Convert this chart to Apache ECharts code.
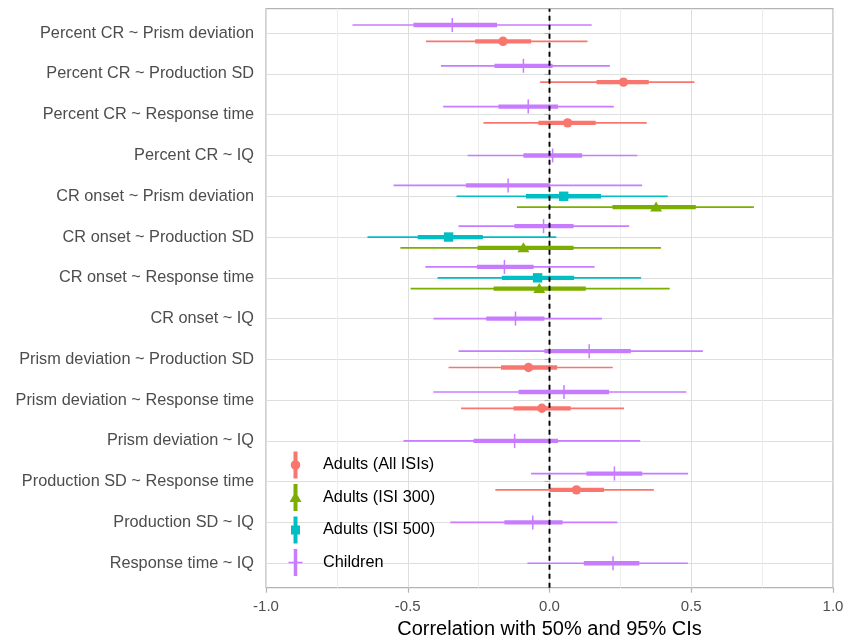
<!DOCTYPE html>
<html>
<head>
<meta charset="utf-8">
<title>Correlation with 50% and 95% CIs</title>
<script src="https://cdn.jsdelivr.net/npm/echarts@6/dist/echarts.min.js"></script>
<style>
	html,body{margin:0;padding:0;background:#fff;}
	#chart{width:845px;height:638px;}
</style>
</head>
<body>
<div id="chart"></div>
<script>
// 行标签 (从上到下)
const categories = [
	"Percent CR ~ Prism deviation",
	"Percent CR ~ Production SD",
	"Percent CR ~ Response time",
	"Percent CR ~ IQ",
	"CR onset ~ Prism deviation",
	"CR onset ~ Production SD",
	"CR onset ~ Response time",
	"CR onset ~ IQ",
	"Prism deviation ~ Production SD",
	"Prism deviation ~ Response time",
	"Prism deviation ~ IQ",
	"Production SD ~ Response time",
	"Production SD ~ IQ",
	"Response time ~ IQ"
];
const xTicks = [-1.0, -0.5, 0.0, 0.5, 1.0];

// Adults (All ISIs)
const allRows = [0, 1, 2, 8, 9, 11];
const allEst  = [-0.164, 0.261, 0.064, -0.074, -0.027, 0.095];
const allLo95 = [-0.436, -0.033, -0.233, -0.356, -0.312, -0.191];
const allHi95 = [0.134, 0.511, 0.343, 0.223, 0.263, 0.368];
const allLo50 = [-0.262, 0.166, -0.039, -0.171, -0.127, 0.000];
const allHi50 = [-0.065, 0.350, 0.163, 0.027, 0.075, 0.192];

// Adults (ISI 300)
const isi300Rows = [4, 5, 6];
const isi300Est  = [0.376, -0.092, -0.036];
const isi300Lo95 = [-0.115, -0.526, -0.490];
const isi300Hi95 = [0.721, 0.393, 0.424];
const isi300Lo50 = [0.222, -0.254, -0.197];
const isi300Hi50 = [0.516, 0.085, 0.128];

// Adults (ISI 500)
const isi500Rows = [4, 5, 6];
const isi500Est  = [0.050, -0.356, -0.042];
const isi500Lo95 = [-0.328, -0.642, -0.395];
const isi500Hi95 = [0.417, 0.024, 0.323];
const isi500Lo50 = [-0.083, -0.465, -0.168];
const isi500Hi50 = [0.182, -0.235, 0.087];

// Children
const kidRows = [0, 1, 2, 3, 4, 5, 6, 7, 8, 9, 10, 11, 12, 13];
const kidEst  = [-0.343, -0.092, -0.075, 0.011, -0.146, -0.021, -0.159, -0.120, 0.140, 0.051, -0.123, 0.229, -0.059, 0.224];
const kidLo95 = [-0.695, -0.383, -0.375, -0.289, -0.550, -0.321, -0.438, -0.409, -0.321, -0.410, -0.515, -0.065, -0.350, -0.078];
const kidHi95 = [0.149, 0.213, 0.227, 0.310, 0.327, 0.281, 0.159, 0.185, 0.541, 0.483, 0.320, 0.489, 0.239, 0.488];
const kidLo50 = [-0.480, -0.194, -0.180, -0.092, -0.295, -0.124, -0.256, -0.223, -0.018, -0.109, -0.268, 0.130, -0.159, 0.121];
const kidHi50 = [-0.185, 0.011, 0.030, 0.115, 0.002, 0.085, -0.056, -0.018, 0.287, 0.210, 0.030, 0.327, 0.046, 0.317];

// 分组 (顺序 = dodge 从下往上)
const groups = [
	{ name: "Adults (All ISIs)", color: "#F8766D", shape: "circle",   rows: allRows,    est: allEst,    lo95: allLo95,    hi95: allHi95,    lo50: allLo50,    hi50: allHi50 },
	{ name: "Adults (ISI 300)",  color: "#7CAE00", shape: "triangle", rows: isi300Rows, est: isi300Est, lo95: isi300Lo95, hi95: isi300Hi95, lo50: isi300Lo50, hi50: isi300Hi50 },
	{ name: "Adults (ISI 500)",  color: "#00BFC4", shape: "square",   rows: isi500Rows, est: isi500Est, lo95: isi500Lo95, hi95: isi500Hi95, lo50: isi500Lo50, hi50: isi500Hi50 },
	{ name: "Children",          color: "#C77CFF", shape: "tick",     rows: kidRows,    est: kidEst,    lo95: kidLo95,    hi95: kidHi95,    lo50: kidLo50,    hi50: kidHi50 }
];

// 图例图标 (宽30 高27, 图形在左边)
const legendIcons = {
	circle:   "path://M0,0L0,0M30,27L30,27M5.5,0L9.5,0L9.5,27L5.5,27Z M2.7,13.5A4.8,4.8 0 1 1 12.3,13.5A4.8,4.8 0 1 1 2.7,13.5Z",
	triangle: "path://M0,0L0,0M30,27L30,27M5.5,0L9.5,0L9.5,27L5.5,27Z M1.5,18L7.5,7.5L13.5,18Z",
	square:   "path://M0,0L0,0M30,27L30,27M5.5,0L9.5,0L9.5,27L5.5,27Z M3,9L12,9L12,18L3,18Z",
	tick:     "path://M0,0L0,0M30,27L30,27M5.75,0L9.25,0L9.25,27L5.75,27Z M0.5,12.8L14.5,12.8L14.5,14.2L0.5,14.2Z"
};

// 每行有几组 -> dodge 偏移 (宽度 0.8)
const rowGroups = categories.map((c, r) => groups.filter(g => g.rows.includes(r)));
function dodgeOffset(g, r) {
	let present = rowGroups[r];
	let k = present.indexOf(g);
	let n = present.length;
	return 0.4 - (k + 0.5) * 0.8 / n;
}

// 绘制 pointrange
function makeRender(shape) {
	return function (params, api) {
		let row = api.value(1);
		let band = api.size([0, 1])[1];
		let y = api.coord([0, row])[1] + api.value(6) * band;
		let px = v => api.coord([v, row])[0];
		let color = api.visual("color");
		let cx = px(api.value(0));
		let items = [
			{ type: "line", shape: { x1: px(api.value(2)), y1: y, x2: px(api.value(3)), y2: y }, style: { stroke: color, lineWidth: 1.7 } },
			{ type: "line", shape: { x1: px(api.value(4)), y1: y, x2: px(api.value(5)), y2: y }, style: { stroke: color, lineWidth: 4.3 } }
		];
		if (shape == "circle") {
			items.push({ type: "circle", shape: { cx: cx, cy: y, r: 4.7 }, style: { fill: color } });
		} else if (shape == "triangle") {
			items.push({ type: "polygon", shape: { points: [[cx - 6, y + 4.3], [cx, y - 5.7], [cx + 6, y + 4.3]] }, style: { fill: color } });
		} else if (shape == "square") {
			items.push({ type: "rect", shape: { x: cx - 4.7, y: y - 4.7, width: 9.4, height: 9.4 }, style: { fill: color } });
		} else {
			items.push({ type: "line", shape: { x1: cx, y1: y - 7, x2: cx, y2: y + 7 }, style: { stroke: color, lineWidth: 1.5 } });
		}
		return { type: "group", children: items };
	};
}

let chart = echarts.init(document.getElementById("chart"));

let panel = { left: 266, top: 8.7, width: 567, height: 579 };
let band = panel.height / (categories.length - 1 + 1.2);

let series = groups.map(g => ({
	name: g.name,
	type: "custom",
	xAxisIndex: 1,
	yAxisIndex: 1,
	clip: false,
	itemStyle: { color: g.color },
	renderItem: makeRender(g.shape),
	encode: { x: 0, y: 1 },
	data: g.rows.map((r, i) => [g.est[i], r, g.lo95[i], g.hi95[i], g.lo50[i], g.hi50[i], dodgeOffset(g, r)])
}));

// 0 处虚线
series.push({
	name: "zero",
	type: "line",
	xAxisIndex: 0,
	yAxisIndex: 0,
	symbol: "none",
	silent: true,
	z: 10,
	lineStyle: { color: "#000", width: 1.9, type: [5, 4] },
	data: [[0, 0], [0, 1]]
});

let font = "'Liberation Sans', Arial, Helvetica, sans-serif";

let option = {
	animation: false,
	textStyle: { fontFamily: font },
	grid: [
		{ left: panel.left, top: panel.top, width: panel.width, height: panel.height, outerBoundsMode: "none", containLabel: false, show: true, borderColor: "#b3b3b3", borderWidth: 1.2, backgroundColor: "transparent" },
		{ left: panel.left, top: panel.top + 0.6 * band, width: panel.width, height: (categories.length - 1) * band, outerBoundsMode: "none", containLabel: false }
	],
	xAxis: [
		{
			type: "value", gridIndex: 0, min: xTicks[0], max: xTicks[xTicks.length - 1], interval: 0.5,
			axisLine: { show: false },
			axisTick: { show: true, length: 5, lineStyle: { color: "#b3b3b3", width: 1.2 } },
			axisLabel: { formatter: v => v.toFixed(1), fontSize: 15, color: "#4d4d4d", margin: 12, fontFamily: font },
			splitLine: { lineStyle: { color: "#dedede", width: 1 } },
			minorTick: { show: false, splitNumber: 2 },
			minorSplitLine: { show: true, lineStyle: { color: "#ededed", width: 1 } },
			name: "Correlation with 50% and 95% CIs",
			nameLocation: "middle",
			nameGap: 29,
			nameTextStyle: { fontSize: 20, color: "#000", fontFamily: font }
		},
		{ type: "value", gridIndex: 1, min: -1, max: 1, show: false }
	],
	yAxis: [
		{ type: "value", gridIndex: 0, min: 0, max: 1, show: false },
		{
			type: "value", gridIndex: 1, min: 0, max: categories.length - 1, interval: 1, inverse: true,
			axisLine: { show: false },
			axisTick: { show: true, length: 5, lineStyle: { color: "#b3b3b3", width: 1.2 } },
			axisLabel: { formatter: v => categories[v] || "", fontSize: 16.3, color: "#4d4d4d", margin: 12, fontFamily: font },
			splitLine: { lineStyle: { color: "#dedede", width: 1 } }
		}
	],
	legend: {
		orient: "vertical",
		left: 288,
		top: 451.5,
		padding: 0,
		itemWidth: 30,
		itemHeight: 27,
		itemGap: 5.5,
		textStyle: { fontSize: 16.3, color: "#000", fontFamily: font },
		data: groups.map(g => ({ name: g.name, icon: legendIcons[g.shape] }))
	},
	series: series
};
chart.setOption(option);
</script>
</body>
</html>
